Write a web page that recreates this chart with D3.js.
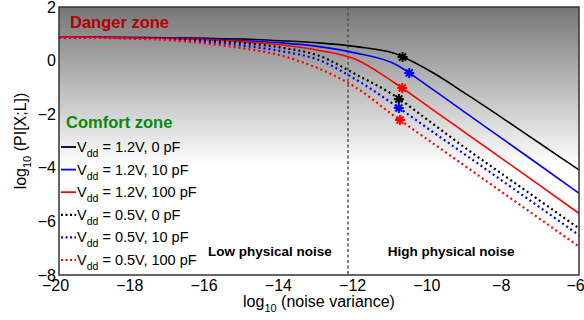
<!DOCTYPE html>
<html>
<head>
<meta charset="utf-8">
<script src="https://d3js.org/d3.v7.min.js"></script>
<style>
  body { margin: 0; background: #fff; }
  text { font-family: "Liberation Sans", Arial, Helvetica, sans-serif; }
</style>
</head>
<body>
<div id="chart"></div>
<script>
// svg size and margins (plot box matches the reference)
var svgWidth = 584;
var svgHeight = 320;
var margin = { top: 7, right: 5, bottom: 45, left: 59 };
var chartWidth = svgWidth - margin.left - margin.right;
var chartHeight = svgHeight - margin.top - margin.bottom;

// data: log10(noise variance) and log10(PI[X;L])
var noiseLog = [-20, -19, -18, -17, -16, -15, -14, -13, -12, -11, -10, -9, -8, -7, -6];
var v12pf0   = [0.87, 0.87, 0.86, 0.85, 0.83, 0.80, 0.74, 0.66, 0.52, 0.28, -0.40, -1.28, -2.20, -3.14, -4.08];
var v12pf10  = [0.87, 0.87, 0.86, 0.84, 0.80, 0.74, 0.66, 0.52, 0.28, -0.10, -1.02, -2.00, -2.98, -3.96, -4.95];
var v12pf100 = [0.87, 0.87, 0.85, 0.83, 0.78, 0.70, 0.58, 0.38, 0.04, -0.80, -1.77, -2.75, -3.73, -4.71, -5.70];
var v05pf0   = [0.87, 0.86, 0.84, 0.81, 0.75, 0.65, 0.48, 0.18, -0.52, -1.28, -2.29, -3.32, -4.30, -5.28, -6.26];
var v05pf10  = [0.87, 0.86, 0.83, 0.79, 0.70, 0.55, 0.35, 0.02, -0.71, -1.62, -2.60, -3.57, -4.55, -5.53, -6.51];
var v05pf100 = [0.87, 0.85, 0.82, 0.76, 0.63, 0.45, 0.18, -0.30, -1.01, -2.04, -3.02, -4.00, -4.98, -5.96, -6.94];

// asterisk markers on each curve
var starX = [-10.75, -10.57, -10.76, -10.85, -10.85, -10.82];
var starY = [0.13, -0.46, -1.02, -1.43, -1.77, -2.22];

var seriesVdd = ['1.2V', '1.2V', '1.2V', '0.5V', '0.5V', '0.5V'];
var seriesCap = ['0 pF', '10 pF', '100 pF', '0 pF', '10 pF', '100 pF'];
var seriesColor = ['#000000', '#0000ff', '#ff0000', '#000000', '#0000ff', '#ff0000'];
var seriesDotted = [false, false, false, true, true, true];
var seriesValues = [v12pf0, v12pf10, v12pf100, v05pf0, v05pf10, v05pf100];

var xTicks = [-20, -18, -16, -14, -12, -10, -8, -6];
var yTicks = [2, 0, -2, -4, -6, -8];
var boundaryX = -12.22;

var svg = d3.select('#chart')
  .append('svg')
  .attr('width', svgWidth)
  .attr('height', svgHeight);

var chartGroup = svg.append('g')
  .attr('transform', `translate(${margin.left}, ${margin.top})`);

var xScale = d3.scaleLinear().domain([-20, -6]).range([0, chartWidth]);
var yScale = d3.scaleLinear().domain([-8, 2]).range([chartHeight, 0]);

// background gradient, dark at the top fading to white
var grad = svg.append('defs').append('linearGradient')
  .attr('id', 'bg')
  .attr('gradientUnits', 'userSpaceOnUse')
  .attr('x1', 0).attr('x2', 0)
  .attr('y1', yScale(2)).attr('y2', yScale(-3.9));
grad.append('stop').attr('offset', 0).attr('stop-color', '#767676');
grad.append('stop').attr('offset', 1).attr('stop-color', '#ffffff');

chartGroup.append('rect')
  .attr('width', chartWidth)
  .attr('height', chartHeight)
  .attr('fill', 'url(#bg)');

// boundary between low and high physical noise
chartGroup.append('line')
  .attr('x1', xScale(boundaryX)).attr('x2', xScale(boundaryX))
  .attr('y1', 0).attr('y2', chartHeight)
  .attr('stroke', '#555')
  .attr('stroke-width', 1.5)
  .attr('stroke-dasharray', '3,2.5');

var line = d3.line()
  .x((d, i) => xScale(noiseLog[i]))
  .y(d => yScale(d))
  .curve(d3.curveMonotoneX);

seriesValues.forEach(function(vals, i) {
  chartGroup.append('path')
    .datum(vals)
    .attr('d', line)
    .attr('fill', 'none')
    .attr('stroke', seriesColor[i])
    .attr('stroke-width', seriesDotted[i] ? 2.2 : 1.6)
    .attr('stroke-dasharray', seriesDotted[i] ? '2,3' : null);
});

// asterisks
var r = 5, d45 = r * 0.707;
var starPath = `M${-r},0L${r},0M0,${-r}L0,${r}M${-d45},${-d45}L${d45},${d45}M${-d45},${d45}L${d45},${-d45}`;
chartGroup.selectAll('.star')
  .data(starX)
  .enter()
  .append('path')
  .attr('class', 'star')
  .attr('d', starPath)
  .attr('transform', (d, i) => `translate(${xScale(d)}, ${yScale(starY[i])})`)
  .attr('stroke', (d, i) => seriesColor[i])
  .attr('stroke-width', 2)
  .attr('fill', 'none');

// zone labels
chartGroup.append('text')
  .attr('x', 11).attr('y', 21)
  .attr('fill', '#b40000')
  .style('font-size', '16.5px')
  .style('font-weight', 'bold')
  .text('Danger zone');

chartGroup.append('text')
  .attr('x', 7).attr('y', 121)
  .attr('fill', '#0a8a0a')
  .style('font-size', '16.5px')
  .style('font-weight', 'bold')
  .text('Comfort zone');

chartGroup.append('text')
  .attr('x', xScale(-14.32)).attr('y', 249)
  .attr('text-anchor', 'middle')
  .style('font-size', '13.5px')
  .style('font-weight', 'bold')
  .text('Low physical noise');

chartGroup.append('text')
  .attr('x', xScale(-9.44)).attr('y', 249)
  .attr('text-anchor', 'middle')
  .style('font-size', '13.5px')
  .style('font-weight', 'bold')
  .text('High physical noise');

// legend
var legend = chartGroup.append('g').attr('transform', 'translate(2, 140)');
seriesColor.forEach(function(c, i) {
  var gy = i * 22.6;
  legend.append('line')
    .attr('x1', 0).attr('x2', 15)
    .attr('y1', gy).attr('y2', gy)
    .attr('stroke', c)
    .attr('stroke-width', seriesDotted[i] ? 2.2 : 1.8)
    .attr('stroke-dasharray', seriesDotted[i] ? '2,2.5' : null);
  var t = legend.append('text')
    .attr('x', 16).attr('y', gy + 5)
    .style('font-size', '14.5px');
  t.append('tspan').text('V');
  t.append('tspan').attr('dy', 5).style('font-size', '10.5px').text('dd');
  t.append('tspan').attr('dy', -5).text(' = ' + seriesVdd[i] + ', ' + seriesCap[i]);
});

// axes
var xAxis = d3.axisBottom(xScale).tickValues(xTicks).tickSize(0).tickPadding(5)
  .tickFormat(d => d3.format('d')(d).replace('-', '\u2212'));
var yAxis = d3.axisLeft(yScale).tickValues(yTicks).tickSize(0).tickPadding(3)
  .tickFormat(d => d3.format('d')(d).replace('-', '\u2212'));

var xg = chartGroup.append('g')
  .attr('transform', `translate(0, ${chartHeight})`)
  .call(xAxis);
xg.selectAll('text').style('font-size', '16px').attr('fill', '#000').attr('dx', -4);
xg.select('.domain').remove();

var yg = chartGroup.append('g').call(yAxis);
yg.selectAll('text').style('font-size', '16px').attr('fill', '#000');
yg.select('.domain').remove();

// box
chartGroup.append('rect')
  .attr('width', chartWidth)
  .attr('height', chartHeight)
  .attr('fill', 'none')
  .attr('stroke', '#333')
  .attr('stroke-width', 1.5);

// axis titles
var xt = chartGroup.append('text')
  .attr('x', chartWidth / 2)
  .attr('y', chartHeight + 32)
  .attr('text-anchor', 'middle')
  .style('font-size', '16px');
xt.append('tspan').text('log');
xt.append('tspan').attr('dy', 5).style('font-size', '11px').text('10');
xt.append('tspan').attr('dy', -5).text(' (noise variance)');

var yt = chartGroup.append('text')
  .attr('transform', `translate(${-33}, ${chartHeight / 2}) rotate(-90)`)
  .attr('text-anchor', 'middle')
  .style('font-size', '16px');
yt.append('tspan').text('log');
yt.append('tspan').attr('dy', 5).style('font-size', '11px').text('10');
yt.append('tspan').attr('dy', -5).text(' (PI[X;L])');
</script>
</body>
</html>
